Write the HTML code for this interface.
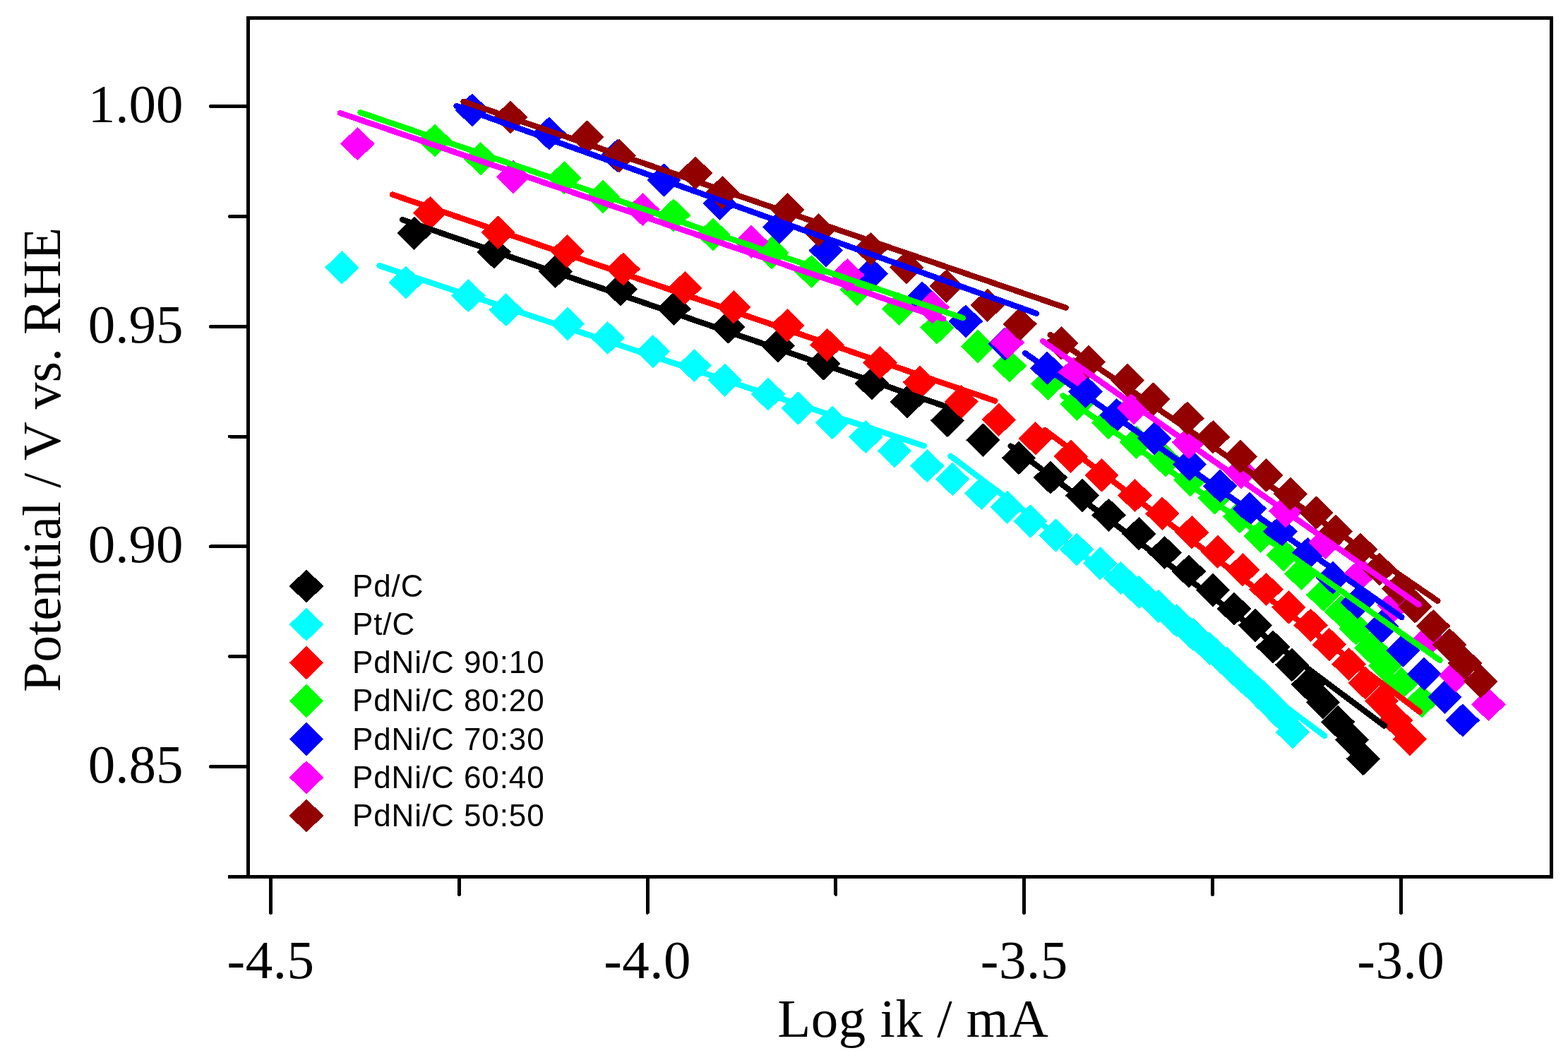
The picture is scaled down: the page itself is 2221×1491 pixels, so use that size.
<!DOCTYPE html>
<html><head><meta charset="utf-8"><title>Tafel plot</title>
<style>html,body{margin:0;padding:0;background:#fff;}svg{display:block;}svg path{shape-rendering:crispEdges;}.serif{font-family:"Liberation Serif","Times New Roman",serif;}.sans{font-family:"Liberation Sans",Arial,sans-serif;}</style></head><body>
<svg width="2221" height="1491" viewBox="0 0 2221 1491">
<rect x="0" y="0" width="2221" height="1491" fill="#fff"/>
<path fill="#000000" stroke="#000000" stroke-width="1" stroke-linejoin="round" d="M563.1 330.2L586.7 307.2L610.3 330.2L586.7 353.2ZM676.0 356.8L699.6 333.8L723.2 356.8L699.6 379.8ZM763.2 384.4L786.8 361.4L810.4 384.4L786.8 407.4ZM855.2 409.9L878.8 386.9L902.4 409.9L878.8 432.9ZM931.1 437.1L954.7 414.1L978.3 437.1L954.7 460.1ZM1008.1 463.0L1031.7 440.0L1055.3 463.0L1031.7 486.0ZM1078.3 489.5L1101.9 466.5L1125.5 489.5L1101.9 512.5ZM1143.1 515.0L1166.7 492.0L1190.3 515.0L1166.7 538.0ZM1211.4 543.0L1235.0 520.0L1258.6 543.0L1235.0 566.0ZM1261.4 568.9L1285.0 545.9L1308.6 568.9L1285.0 591.9ZM1318.3 595.4L1341.9 572.4L1365.5 595.4L1341.9 618.4ZM1368.8 623.1L1392.4 600.1L1416.0 623.1L1392.4 646.1ZM1419.2 648.5L1442.8 625.5L1466.4 648.5L1442.8 671.5ZM1464.4 676.2L1488.0 653.2L1511.6 676.2L1488.0 699.2ZM1509.3 701.6L1532.9 678.6L1556.5 701.6L1532.9 724.6ZM1546.9 729.3L1570.5 706.3L1594.1 729.3L1570.5 752.3ZM1589.5 755.8L1613.1 732.8L1636.7 755.8L1613.1 778.8ZM1626.0 782.4L1649.6 759.4L1673.2 782.4L1649.6 805.4ZM1660.3 809.0L1683.9 786.0L1707.5 809.0L1683.9 832.0ZM1694.6 835.5L1718.2 812.5L1741.8 835.5L1718.2 858.5ZM1724.5 862.1L1748.1 839.1L1771.7 862.1L1748.1 885.1ZM1754.4 885.3L1778.0 862.3L1801.6 885.3L1778.0 908.3ZM1779.6 916.0L1803.2 893.0L1826.8 916.0L1803.2 939.0ZM1806.2 941.5L1829.8 918.5L1853.4 941.5L1829.8 964.5ZM1829.4 969.2L1853.0 946.2L1876.6 969.2L1853.0 992.2ZM1850.5 994.6L1874.1 971.6L1897.7 994.6L1874.1 1017.6ZM1871.5 1022.3L1895.1 999.3L1918.7 1022.3L1895.1 1045.3ZM1891.4 1047.7L1915.0 1024.7L1938.6 1047.7L1915.0 1070.7ZM1907.4 1074.3L1931.0 1051.3L1954.6 1074.3L1931.0 1097.3Z"/>
<path fill="#00FFFF" stroke="#00FFFF" stroke-width="1" stroke-linejoin="round" d="M460.7 378.9L484.3 355.9L507.9 378.9L484.3 401.9ZM551.4 399.9L575.0 376.9L598.6 399.9L575.0 422.9ZM639.9 418.7L663.5 395.7L687.1 418.7L663.5 441.7ZM693.0 438.7L716.6 415.7L740.2 438.7L716.6 461.7ZM780.4 458.6L804.0 435.6L827.6 458.6L804.0 481.6ZM837.1 478.5L860.7 455.5L884.3 478.5L860.7 501.5ZM901.3 497.7L924.9 474.7L948.5 497.7L924.9 520.7ZM959.9 517.6L983.5 494.6L1007.1 517.6L983.5 540.6ZM1003.1 538.2L1026.7 515.2L1050.3 538.2L1026.7 561.2ZM1064.4 558.1L1088.0 535.1L1111.6 558.1L1088.0 581.1ZM1107.1 578.0L1130.7 555.0L1154.3 578.0L1130.7 601.0ZM1155.4 598.3L1179.0 575.3L1202.6 598.3L1179.0 621.3ZM1202.8 618.6L1226.4 595.6L1250.0 618.6L1226.4 641.6ZM1243.3 638.6L1266.9 615.6L1290.5 638.6L1266.9 661.6ZM1289.8 659.6L1313.4 636.6L1337.0 659.6L1313.4 682.6ZM1325.6 678.4L1349.2 655.4L1372.8 678.4L1349.2 701.4ZM1366.5 698.3L1390.1 675.3L1413.7 698.3L1390.1 721.3ZM1403.1 718.2L1426.7 695.2L1450.3 718.2L1426.7 741.2ZM1435.8 738.1L1459.4 715.1L1483.0 738.1L1459.4 761.1ZM1471.7 758.0L1495.3 735.0L1518.9 758.0L1495.3 781.0ZM1501.5 778.0L1525.1 755.0L1548.7 778.0L1525.1 801.0ZM1534.7 797.9L1558.3 774.9L1581.9 797.9L1558.3 820.9ZM1563.8 818.4L1587.4 795.4L1611.0 818.4L1587.4 841.4ZM1589.7 838.3L1613.3 815.3L1636.9 838.3L1613.3 861.3ZM1617.4 858.3L1641.0 835.3L1664.6 858.3L1641.0 881.3ZM1642.8 878.6L1666.4 855.6L1690.0 878.6L1666.4 901.6ZM1666.7 898.5L1690.3 875.5L1713.9 898.5L1690.3 921.5ZM1689.9 918.4L1713.5 895.4L1737.1 918.4L1713.5 941.4ZM1714.3 939.0L1737.9 916.0L1761.5 939.0L1737.9 962.0ZM1735.3 958.9L1758.9 935.9L1782.5 958.9L1758.9 981.9ZM1757.4 978.9L1781.0 955.9L1804.6 978.9L1781.0 1001.9ZM1777.4 998.8L1801.0 975.8L1824.6 998.8L1801.0 1021.8ZM1795.1 1016.7L1818.7 993.7L1842.3 1016.7L1818.7 1039.7ZM1807.2 1036.6L1830.8 1013.6L1854.4 1036.6L1830.8 1059.6Z"/>
<path fill="#FF0000" stroke="#FF0000" stroke-width="1" stroke-linejoin="round" d="M585.7 301.5L609.3 278.5L632.9 301.5L609.3 324.5ZM681.9 329.1L705.5 306.1L729.1 329.1L705.5 352.1ZM779.8 355.7L803.4 332.7L827.0 355.7L803.4 378.7ZM859.2 381.0L882.8 358.0L906.4 381.0L882.8 404.0ZM946.6 407.7L970.2 384.7L993.8 407.7L970.2 430.7ZM1015.7 434.9L1039.3 411.9L1062.9 434.9L1039.3 457.9ZM1091.6 460.8L1115.2 437.8L1138.8 460.8L1115.2 483.8ZM1148.0 488.4L1171.6 465.4L1195.2 488.4L1171.6 511.4ZM1223.0 513.5L1246.6 490.5L1270.2 513.5L1246.6 536.5ZM1279.5 541.2L1303.1 518.2L1326.7 541.2L1303.1 564.2ZM1338.1 568.9L1361.7 545.9L1385.3 568.9L1361.7 591.9ZM1391.2 594.3L1414.8 571.3L1438.4 594.3L1414.8 617.3ZM1443.2 620.9L1466.8 597.9L1490.4 620.9L1466.8 643.9ZM1493.1 646.3L1516.7 623.3L1540.3 646.3L1516.7 669.3ZM1536.9 672.9L1560.5 649.9L1584.1 672.9L1560.5 695.9ZM1584.0 701.6L1607.6 678.6L1631.2 701.6L1607.6 724.6ZM1622.7 727.1L1646.3 704.1L1669.9 727.1L1646.3 750.1ZM1664.7 753.6L1688.3 730.6L1711.9 753.6L1688.3 776.6ZM1701.3 781.3L1724.9 758.3L1748.5 781.3L1724.9 804.3ZM1736.7 806.7L1760.3 783.7L1783.9 806.7L1760.3 829.7ZM1769.9 834.4L1793.5 811.4L1817.1 834.4L1793.5 857.4ZM1801.9 859.8L1825.5 836.8L1849.1 859.8L1825.5 882.8ZM1832.9 885.3L1856.5 862.3L1880.1 885.3L1856.5 908.3ZM1859.3 912.7L1882.9 889.7L1906.5 912.7L1882.9 935.7ZM1887.0 940.4L1910.6 917.4L1934.2 940.4L1910.6 963.4ZM1910.2 967.0L1933.8 944.0L1957.4 967.0L1933.8 990.0ZM1933.5 992.4L1957.1 969.4L1980.7 992.4L1957.1 1015.4ZM1953.4 1020.1L1977.0 997.1L2000.6 1020.1L1977.0 1043.1ZM1973.3 1046.6L1996.9 1023.6L2020.5 1046.6L1996.9 1069.6Z"/>
<path fill="#00FF00" stroke="#00FF00" stroke-width="1" stroke-linejoin="round" d="M592.3 199.0L615.9 176.0L639.5 199.0L615.9 222.0ZM657.2 224.7L680.8 201.7L704.4 224.7L680.8 247.7ZM775.7 251.7L799.3 228.7L822.9 251.7L799.3 274.7ZM830.4 278.7L854.0 255.7L877.6 278.7L854.0 301.7ZM930.4 304.8L954.0 281.8L977.6 304.8L954.0 327.8ZM986.4 332.0L1010.0 309.0L1033.6 332.0L1010.0 355.0ZM1069.4 357.9L1093.0 334.9L1116.6 357.9L1093.0 380.9ZM1125.8 384.4L1149.4 361.4L1173.0 384.4L1149.4 407.4ZM1190.4 409.9L1214.0 386.9L1237.6 409.9L1214.0 432.9ZM1249.6 437.2L1273.2 414.2L1296.8 437.2L1273.2 460.2ZM1303.8 463.8L1327.4 440.8L1351.0 463.8L1327.4 486.8ZM1361.4 490.7L1385.0 467.7L1408.6 490.7L1385.0 513.7ZM1406.3 518.0L1429.9 495.0L1453.5 518.0L1429.9 541.0ZM1460.9 543.4L1484.5 520.4L1508.1 543.4L1484.5 566.4ZM1501.9 572.2L1525.5 549.2L1549.1 572.2L1525.5 595.2ZM1546.4 598.7L1570.0 575.7L1593.6 598.7L1570.0 621.7ZM1586.2 626.4L1609.8 603.4L1633.4 626.4L1609.8 649.4ZM1627.1 651.8L1650.7 628.8L1674.3 651.8L1650.7 674.8ZM1662.5 679.5L1686.1 656.5L1709.7 679.5L1686.1 702.5ZM1696.8 705.0L1720.4 682.0L1744.0 705.0L1720.4 728.0ZM1732.2 731.5L1755.8 708.5L1779.4 731.5L1755.8 754.5ZM1762.1 759.2L1785.7 736.2L1809.3 759.2L1785.7 782.2ZM1794.2 785.7L1817.8 762.7L1841.4 785.7L1817.8 808.7ZM1819.7 812.3L1843.3 789.3L1866.9 812.3L1843.3 835.3ZM1850.6 842.1L1874.2 819.1L1897.8 842.1L1874.2 865.1ZM1876.4 866.0L1900.0 843.0L1923.6 866.0L1900.0 889.0ZM1897.4 890.2L1921.0 867.2L1944.6 890.2L1921.0 913.2ZM1918.7 917.5L1942.3 894.5L1965.9 917.5L1942.3 940.5ZM1938.4 942.6L1962.0 919.6L1985.6 942.6L1962.0 965.6ZM1961.4 968.0L1985.0 945.0L2008.6 968.0L1985.0 991.0ZM1990.4 993.0L2014.0 970.0L2037.6 993.0L2014.0 1016.0Z"/>
<path fill="#0000FF" stroke="#0000FF" stroke-width="1" stroke-linejoin="round" d="M645.3 155.9L668.9 132.9L692.5 155.9L668.9 178.9ZM754.2 189.0L777.8 166.0L801.4 189.0L777.8 212.0ZM850.7 220.5L874.3 197.5L897.9 220.5L874.3 243.5ZM917.1 255.0L940.7 232.0L964.3 255.0L940.7 278.0ZM996.1 288.2L1019.7 265.2L1043.3 288.2L1019.7 311.2ZM1080.4 321.4L1104.0 298.4L1127.6 321.4L1104.0 344.4ZM1146.1 354.6L1169.7 331.6L1193.3 354.6L1169.7 377.6ZM1210.3 387.8L1233.9 364.8L1257.5 387.8L1233.9 410.8ZM1282.8 422.2L1306.4 399.2L1330.0 422.2L1306.4 445.2ZM1344.3 454.9L1367.9 431.9L1391.5 454.9L1367.9 477.9ZM1400.1 487.0L1423.7 464.0L1447.3 487.0L1423.7 510.0ZM1459.8 521.3L1483.4 498.3L1507.0 521.3L1483.4 544.3ZM1514.0 554.5L1537.6 531.5L1561.2 554.5L1537.6 577.5ZM1558.3 587.7L1581.9 564.7L1605.5 587.7L1581.9 610.7ZM1611.6 620.9L1635.2 597.9L1658.8 620.9L1635.2 643.9ZM1661.4 657.4L1685.0 634.4L1708.6 657.4L1685.0 680.4ZM1704.6 688.3L1728.2 665.3L1751.8 688.3L1728.2 711.3ZM1746.6 720.4L1770.2 697.4L1793.8 720.4L1770.2 743.4ZM1789.8 752.5L1813.4 729.5L1837.0 752.5L1813.4 775.5ZM1828.6 784.6L1852.2 761.6L1875.8 784.6L1852.2 807.6ZM1864.4 818.2L1888.0 795.2L1911.6 818.2L1888.0 841.2ZM1899.4 853.0L1923.0 830.0L1946.6 853.0L1923.0 876.0ZM1933.7 887.0L1957.3 864.0L1980.9 887.0L1957.3 910.0ZM1963.8 921.0L1987.4 898.0L2011.0 921.0L1987.4 944.0ZM1993.8 954.3L2017.4 931.3L2041.0 954.3L2017.4 977.3ZM2022.9 987.2L2046.5 964.2L2070.1 987.2L2046.5 1010.2ZM2048.2 1020.0L2071.8 997.0L2095.4 1020.0L2071.8 1043.0Z"/>
<path fill="#FF00FF" stroke="#FF00FF" stroke-width="1" stroke-linejoin="round" d="M482.8 203.6L506.4 180.6L530.0 203.6L506.4 226.6ZM703.5 250.4L727.1 227.4L750.7 250.4L727.1 273.4ZM886.8 296.6L910.4 273.6L934.0 296.6L910.4 319.6ZM1040.6 342.4L1064.2 319.4L1087.8 342.4L1064.2 365.4ZM1176.7 389.5L1200.3 366.5L1223.9 389.5L1200.3 412.5ZM1297.2 435.0L1320.8 412.0L1344.4 435.0L1320.8 458.0ZM1403.4 484.8L1427.0 461.8L1450.6 484.8L1427.0 507.8ZM1497.4 529.0L1521.0 506.0L1544.6 529.0L1521.0 552.0ZM1582.4 577.5L1606.0 554.5L1629.6 577.5L1606.0 600.5ZM1660.3 626.4L1683.9 603.4L1707.5 626.4L1683.9 649.4ZM1734.4 668.4L1758.0 645.4L1781.6 668.4L1758.0 691.4ZM1797.5 723.8L1821.1 700.8L1844.7 723.8L1821.1 746.8ZM1853.9 768.0L1877.5 745.0L1901.1 768.0L1877.5 791.0ZM1904.4 812.0L1928.0 789.0L1951.6 812.0L1928.0 835.0ZM1951.4 857.0L1975.0 834.0L1998.6 857.0L1975.0 880.0ZM2000.4 906.0L2024.0 883.0L2047.6 906.0L2024.0 929.0ZM2038.4 956.5L2062.0 933.5L2085.6 956.5L2062.0 979.5ZM2084.8 997.5L2108.4 974.5L2132.0 997.5L2108.4 1020.5Z"/>
<path fill="#930000" stroke="#930000" stroke-width="1" stroke-linejoin="round" d="M699.4 166.0L723.0 143.0L746.6 166.0L723.0 189.0ZM808.1 194.0L831.7 171.0L855.3 194.0L831.7 217.0ZM853.4 220.5L877.0 197.5L900.6 220.5L877.0 243.5ZM961.4 245.0L985.0 222.0L1008.6 245.0L985.0 268.0ZM999.6 272.7L1023.2 249.7L1046.8 272.7L1023.2 295.7ZM1091.9 297.0L1115.5 274.0L1139.1 297.0L1115.5 320.0ZM1135.7 325.8L1159.3 302.8L1182.9 325.8L1159.3 348.8ZM1209.8 352.4L1233.4 329.4L1257.0 352.4L1233.4 375.4ZM1260.7 378.6L1284.3 355.6L1307.9 378.6L1284.3 401.6ZM1317.1 405.1L1340.7 382.1L1364.3 405.1L1340.7 428.1ZM1375.1 432.3L1398.7 409.3L1422.3 432.3L1398.7 455.3ZM1421.1 458.9L1444.7 435.9L1468.3 458.9L1444.7 481.9ZM1479.7 485.9L1503.3 462.9L1526.9 485.9L1503.3 508.9ZM1518.4 512.4L1542.0 489.4L1565.6 512.4L1542.0 535.4ZM1573.3 538.5L1596.9 515.5L1620.5 538.5L1596.9 561.5ZM1609.8 565.1L1633.4 542.1L1657.0 565.1L1633.4 588.1ZM1658.1 592.1L1681.7 569.1L1705.3 592.1L1681.7 615.1ZM1694.6 618.6L1718.2 595.6L1741.8 618.6L1718.2 641.6ZM1733.4 646.3L1757.0 623.3L1780.6 646.3L1757.0 669.3ZM1769.9 672.9L1793.5 649.9L1817.1 672.9L1793.5 695.9ZM1804.2 699.4L1827.8 676.4L1851.4 699.4L1827.8 722.4ZM1840.7 726.0L1864.3 703.0L1887.9 726.0L1864.3 749.0ZM1868.3 752.5L1891.9 729.5L1915.5 752.5L1891.9 775.5ZM1903.4 778.0L1927.0 755.0L1950.6 778.0L1927.0 801.0ZM1930.4 806.0L1954.0 783.0L1977.6 806.0L1954.0 829.0ZM1957.9 833.5L1981.5 810.5L2005.1 833.5L1981.5 856.5ZM1980.7 859.0L2004.3 836.0L2027.9 859.0L2004.3 882.0ZM2006.7 886.5L2030.3 863.5L2053.9 886.5L2030.3 909.5ZM2029.6 913.0L2053.2 890.0L2076.8 913.0L2053.2 936.0ZM2051.4 939.0L2075.0 916.0L2098.6 939.0L2075.0 962.0ZM2073.8 964.8L2097.4 941.8L2121.0 964.8L2097.4 987.8Z"/>
<path fill="none" stroke="#000000" stroke-width="8.3" stroke-linecap="round" d="M569.8 311.0L1338.3 575.2M1431.6 631.6L1961.0 1027.7"/>
<path fill="none" stroke="#00FFFF" stroke-width="8.3" stroke-linecap="round" d="M537.5 376.2L1308.9 631.4M1346.2 645.6L1876.3 1042.0"/>
<path fill="none" stroke="#FF0000" stroke-width="8.3" stroke-linecap="round" d="M555.9 275.5L1409.4 567.6M1480.2 609.0L2010.8 1007.8"/>
<path fill="none" stroke="#00FF00" stroke-width="8.3" stroke-linecap="round" d="M510.5 159.3L1363.7 450.2M1505.4 560.2L2039.6 934.9"/>
<path fill="none" stroke="#0000FF" stroke-width="8.3" stroke-linecap="round" d="M646.6 150.1L1467.9 443.8M1452.1 500.1L1985.4 874.0"/>
<path fill="none" stroke="#FF00FF" stroke-width="8.3" stroke-linecap="round" d="M481.7 160.0L1336.1 451.4M1477.1 483.1L2009.7 856.3"/>
<path fill="none" stroke="#930000" stroke-width="8.3" stroke-linecap="round" d="M656.5 143.8L1509.6 435.8M1487.6 474.1L2036.4 850.9"/>
<path fill="none" stroke="#000" stroke-width="5" stroke-linejoin="miter" d="M351.3 1241.5L351.3 25.5L2197.3 25.5L2197.3 1241.5"/>
<path fill="none" stroke="#000" stroke-width="5" d="M323 1241.5L2199.8 1241.5"/>
<path fill="none" stroke="#000" stroke-width="5" stroke-linecap="round" d="M298.5 150.5L351.3 150.5M298.5 462.2L351.3 462.2M298.5 773.9L351.3 773.9M298.5 1085.6L351.3 1085.6M325.5 306.4L351.3 306.4M325.5 618.0L351.3 618.0M325.5 929.8L351.3 929.8M383.5 1241.5L383.5 1292.3M917.1 1241.5L917.1 1292.3M1450.7 1241.5L1450.7 1292.3M1984.3 1241.5L1984.3 1292.3M650.3 1241.5L650.3 1266.3M1183.9 1241.5L1183.9 1266.3M1717.5 1241.5L1717.5 1266.3"/>
<text class="serif" x="259.5" y="172.9" font-size="77" text-anchor="end">1.00</text>
<text class="serif" x="259.5" y="484.6" font-size="77" text-anchor="end">0.95</text>
<text class="serif" x="259.5" y="796.3" font-size="77" text-anchor="end">0.90</text>
<text class="serif" x="259.5" y="1108.0" font-size="77" text-anchor="end">0.85</text>
<text class="serif" x="383.5" y="1385" font-size="77" letter-spacing="0.5" text-anchor="middle">-4.5</text>
<text class="serif" x="917.1" y="1385" font-size="77" letter-spacing="0.5" text-anchor="middle">-4.0</text>
<text class="serif" x="1450.7" y="1385" font-size="77" letter-spacing="0.5" text-anchor="middle">-3.5</text>
<text class="serif" x="1984.3" y="1385" font-size="77" letter-spacing="0.5" text-anchor="middle">-3.0</text>
<text class="serif" x="1293.3" y="1468.3" font-size="77" letter-spacing="0.5" text-anchor="middle">Log ik / mA</text>
<text class="serif" transform="translate(85 651) rotate(-90)" x="0" y="0" font-size="76" text-anchor="middle">Potential / V vs. RHE</text>
<path fill="#000000" stroke="#000000" stroke-width="1" stroke-linejoin="round" d="M410.4 830.0L434.0 807.0L457.6 830.0L434.0 853.0Z"/>
<text class="sans" x="499" y="844.8" font-size="44" letter-spacing="0.9">Pd/C</text>
<path fill="#00FFFF" stroke="#00FFFF" stroke-width="1" stroke-linejoin="round" d="M410.4 884.2L434.0 861.2L457.6 884.2L434.0 907.2Z"/>
<text class="sans" x="499" y="899.0" font-size="44" letter-spacing="0.9">Pt/C</text>
<path fill="#FF0000" stroke="#FF0000" stroke-width="1" stroke-linejoin="round" d="M410.4 938.3L434.0 915.3L457.6 938.3L434.0 961.3Z"/>
<text class="sans" x="499" y="953.1" font-size="44" letter-spacing="0.9">PdNi/C 90:10</text>
<path fill="#00FF00" stroke="#00FF00" stroke-width="1" stroke-linejoin="round" d="M410.4 992.5L434.0 969.5L457.6 992.5L434.0 1015.5Z"/>
<text class="sans" x="499" y="1007.3" font-size="44" letter-spacing="0.9">PdNi/C 80:20</text>
<path fill="#0000FF" stroke="#0000FF" stroke-width="1" stroke-linejoin="round" d="M410.4 1046.7L434.0 1023.7L457.6 1046.7L434.0 1069.7Z"/>
<text class="sans" x="499" y="1061.5" font-size="44" letter-spacing="0.9">PdNi/C 70:30</text>
<path fill="#FF00FF" stroke="#FF00FF" stroke-width="1" stroke-linejoin="round" d="M410.4 1100.8L434.0 1077.8L457.6 1100.8L434.0 1123.8Z"/>
<text class="sans" x="499" y="1115.6" font-size="44" letter-spacing="0.9">PdNi/C 60:40</text>
<path fill="#930000" stroke="#930000" stroke-width="1" stroke-linejoin="round" d="M410.4 1155.0L434.0 1132.0L457.6 1155.0L434.0 1178.0Z"/>
<text class="sans" x="499" y="1169.8" font-size="44" letter-spacing="0.9">PdNi/C 50:50</text>
</svg></body></html>
